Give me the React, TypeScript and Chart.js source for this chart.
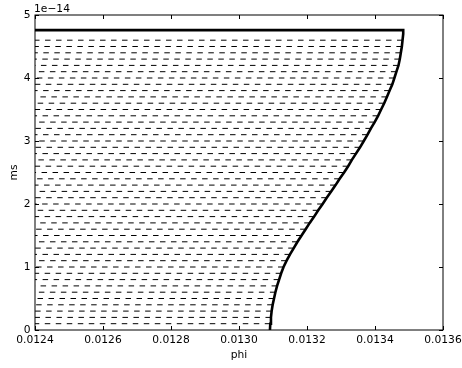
import React, { useEffect, useRef } from "react";
import { Chart, registerables } from "chart.js";

Chart.register(...registerables);

// ms values are in units of 1e-14 (offset label shown at top of the axis)
const MS_UNIT_LABEL = "1e\u221214";
const X_TICKS = [0.0124, 0.0126, 0.0128, 0.013, 0.0132, 0.0134, 0.0136];
const Y_TICKS = [0, 1, 2, 3, 4, 5];

// boundary curve: ms level -> phi
const CURVE_MS = [
  0, 0.1, 0.2, 0.3, 0.4, 0.5, 0.6, 0.7, 0.8, 0.9,
  1.0, 1.1, 1.2, 1.3, 1.4, 1.5, 1.6, 1.7, 1.8, 1.9,
  2.0, 2.1, 2.2, 2.3, 2.4, 2.5, 2.6, 2.7, 2.8, 2.9,
  3.0, 3.1, 3.2, 3.3, 3.4, 3.5, 3.6, 3.7, 3.8, 3.9,
  4.0, 4.1, 4.2, 4.3, 4.4, 4.5, 4.6, 4.7, 4.76,
];
const CURVE_PHI = [
  0.013091, 0.013092, 0.013094, 0.013096, 0.013099, 0.013103, 0.013107, 0.013112, 0.013118, 0.013124,
  0.013131, 0.01314, 0.01315, 0.013161, 0.013172, 0.013184, 0.013196, 0.013208, 0.013221, 0.013233,
  0.013246, 0.013258, 0.013271, 0.013284, 0.013296, 0.013309, 0.013321, 0.013332, 0.013344, 0.013356,
  0.013367, 0.013378, 0.013388, 0.013399, 0.013409, 0.013418, 0.013427, 0.013435, 0.013443, 0.013451,
  0.013457, 0.013463, 0.013469, 0.013473, 0.013476, 0.013479, 0.013481, 0.013483, 0.013483,
];
const PHI_MIN = 0.0124;
const PHI_MAX = 0.0136;
const MS_MIN = 0;
const MS_MAX = 5;
// dashed fill lines at these ms levels (indices into the curve table)
const DASH_MS = [
  0.1, 0.2, 0.3, 0.4, 0.5, 0.6, 0.7, 0.8, 0.9, 1.0,
  1.1, 1.2, 1.3, 1.4, 1.5, 1.6, 1.7, 1.8, 1.9, 2.0,
  2.1, 2.2, 2.3, 2.4, 2.5, 2.6, 2.7, 2.8, 2.9, 3.0,
  3.1, 3.2, 3.3, 3.4, 3.5, 3.6, 3.7, 3.8, 3.9, 4.0,
  4.1, 4.2, 4.3, 4.4, 4.5, 4.6,
];

const FONT = '10.7px "DejaVu Sans"';

const axesPlugin = {
  id: "mplAxes",
  afterDraw(chart: any) {
    const { ctx, chartArea } = chart;
    const { left, right, top, bottom } = chartArea;
    const xs = chart.scales.x;
    const ys = chart.scales.y;
    ctx.save();
    ctx.strokeStyle = "#000";
    ctx.lineWidth = 1;
    ctx.strokeRect(left, top, right - left, bottom - top);
    ctx.beginPath();
    X_TICKS.forEach((v) => {
      const px = Math.round(xs.getPixelForValue(v)) + 0.5;
      ctx.moveTo(px, bottom);
      ctx.lineTo(px, bottom - 4);
      ctx.moveTo(px, top);
      ctx.lineTo(px, top + 4);
    });
    Y_TICKS.forEach((v) => {
      const py = Math.round(ys.getPixelForValue(v)) + 0.5;
      ctx.moveTo(left, py);
      ctx.lineTo(left + 4, py);
      ctx.moveTo(right, py);
      ctx.lineTo(right - 4, py);
    });
    ctx.stroke();

    ctx.fillStyle = "#000";
    ctx.font = FONT;
    ctx.textAlign = "center";
    ctx.textBaseline = "alphabetic";
    X_TICKS.forEach((v) => {
      ctx.fillText(v.toFixed(4), xs.getPixelForValue(v), bottom + 13.3);
    });
    ctx.textAlign = "right";
    ctx.textBaseline = "middle";
    Y_TICKS.forEach((v) => {
      ctx.fillText(String(v), left - 4.5, ys.getPixelForValue(v));
    });
    ctx.textAlign = "left";
    ctx.textBaseline = "alphabetic";
    ctx.fillText(MS_UNIT_LABEL, left - 1, top - 3);

    ctx.textAlign = "center";
    ctx.fillText("phi", (left + right) / 2, bottom + 28);
    ctx.save();
    ctx.translate(17, (top + bottom) / 2);
    ctx.rotate(-Math.PI / 2);
    ctx.fillText("ms", 0, 0);
    ctx.restore();
    ctx.restore();
  },
};

export default function App() {
  const ref = useRef<HTMLCanvasElement>(null);
  useEffect(() => {
    document.body.style.margin = "0";
    const canvas = ref.current;
    if (!canvas) return;
    const curveData = CURVE_PHI.map((p, i) => ({ x: p, y: CURVE_MS[i] }));
    curveData.push({ x: PHI_MIN, y: CURVE_MS[CURVE_MS.length - 1] });
    const dashSets = DASH_MS.map((m) => {
      const idx = CURVE_MS.indexOf(m);
      return {
        data: [
          { x: CURVE_PHI[idx], y: m },
          { x: PHI_MIN, y: m },
        ],
        borderColor: "#000",
        borderWidth: 1,
        borderDash: [5.5, 5.5],
        pointRadius: 0,
        fill: false,
      };
    });
    const chart = new Chart(canvas, {
      type: "line",
      data: {
        datasets: [
          ...dashSets,
          {
            data: curveData,
            borderColor: "#000",
            borderWidth: 2.6,
            pointRadius: 0,
            fill: false,
            borderJoinStyle: "miter",
          } as any,
        ],
      },
      options: {
        animation: false,
        responsive: false,
        devicePixelRatio: 1,
        layout: { padding: { left: 35, right: 19, top: 15, bottom: 38 } },
        plugins: { legend: { display: false }, tooltip: { enabled: false } },
        events: [],
        scales: {
          x: { type: "linear", display: false, min: PHI_MIN, max: PHI_MAX },
          y: { type: "linear", display: false, min: MS_MIN, max: MS_MAX },
        },
      },
      plugins: [axesPlugin],
    });
    return () => chart.destroy();
  }, []);
  return (
    <canvas
      ref={ref}
      width={462}
      height={368}
      style={{ display: "block", width: 462, height: 368, background: "#fff" }}
    />
  );
}
